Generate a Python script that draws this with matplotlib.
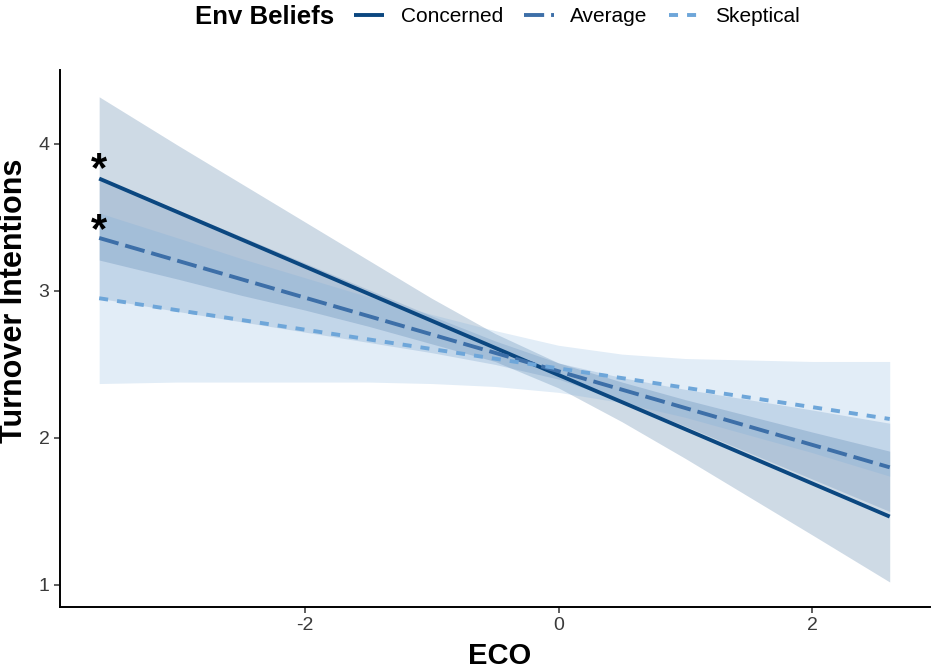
import matplotlib
matplotlib.use("Agg")
import matplotlib.pyplot as plt
from matplotlib.lines import Line2D

plt.rcParams["font.family"] = ["Liberation Sans", "DejaVu Sans"]
plt.rcParams["lines.scale_dashes"] = False
plt.rcParams["axes.unicode_minus"] = False

# --- data ---
# straight fitted lines, ends only
eco_ends = [-3.62, 2.61]
concerned_fit = [3.764, 1.465]
average_fit = [3.360, 1.800]
skeptical_fit = [2.950, 2.129]

# confidence ribbons
eco = [-3.62, -3.0, -2.5, -2.0, -1.5, -1.0, -0.5, 0.0, 0.5, 1.0, 1.5, 2.0, 2.61]
concerned_lo = [3.21, 3.08, 2.97, 2.87, 2.76, 2.64, 2.52, 2.34, 2.11, 1.86, 1.60, 1.34, 1.02]
concerned_hi = [4.32, 3.99, 3.73, 3.47, 3.21, 2.95, 2.71, 2.51, 2.38, 2.26, 2.15, 2.04, 1.91]
average_lo = [2.95, 2.86, 2.79, 2.72, 2.65, 2.58, 2.50, 2.40, 2.25, 2.08, 1.90, 1.72, 1.50]
average_hi = [3.77, 3.55, 3.37, 3.19, 3.01, 2.83, 2.66, 2.51, 2.41, 2.33, 2.26, 2.19, 2.10]
skeptical_lo = [2.37, 2.38, 2.38, 2.38, 2.38, 2.37, 2.35, 2.31, 2.24, 2.14, 2.02, 1.90, 1.74]
skeptical_hi = [3.53, 3.36, 3.22, 3.09, 2.96, 2.84, 2.73, 2.63, 2.57, 2.54, 2.53, 2.52, 2.52]

groups = ["Concerned", "Average", "Skeptical"]
colors = ["#0b4780", "#3d6fa8", "#6ea6d9"]
dashes = [(0, ()), (0, (14.5, 5.0)), (0, (6.5, 6.5))]
star_y = [3.82, 3.41]  # significance markers for Concerned / Average

fits = [concerned_fit, average_fit, skeptical_fit]
los = [concerned_lo, average_lo, skeptical_lo]
his = [concerned_hi, average_hi, skeptical_hi]

fig = plt.figure(figsize=(9.35, 6.7), dpi=100)
ax = fig.add_axes([0.064, 0.094, 0.931, 0.801])

for lo, hi, c in zip(los, his, colors):
    ax.fill_between(eco, lo, hi, color=c, alpha=0.2, linewidth=0)
for fit, c, ls in zip(fits, colors, dashes):
    ax.plot(eco_ends, fit, color=c, linestyle=ls, linewidth=2.8,
            solid_capstyle="butt", dash_capstyle="butt")

for y in star_y:
    ax.text(eco_ends[0], y, "*", fontsize=30, fontweight="bold", ha="center", va="center", color="black")

ax.set_xlim(-3.93, 2.93)
ax.set_ylim(0.85, 4.5)
ax.set_xticks([-2, 0, 2])
ax.set_yticks([1, 2, 3, 4])
ax.tick_params(labelsize=14, labelcolor="#3a3a3a", length=4, width=1.1, color="#333333")
for s in ["top", "right"]:
    ax.spines[s].set_visible(False)
for s in ["left", "bottom"]:
    ax.spines[s].set_linewidth(1.4)
ax.set_xlabel("ECO", fontsize=21, fontweight="bold")
ax.set_ylabel("Turnover Intentions", fontsize=22, fontweight="bold")
ax.xaxis.set_label_coords(0.505, -0.066)
ax.yaxis.set_label_coords(-0.036, 0.57)

# legend, title placed to the left like ggplot's top legend
fig.text(195 / 935, 0.975, "Env Beliefs", fontsize=18.5, fontweight="bold", ha="left", va="center")
handles = [Line2D([], [], color=c, linestyle=ls, linewidth=2.8, solid_capstyle="butt", dash_capstyle="butt")
           for c, ls in zip(colors, dashes)]
fig.legend(handles, groups, loc="center left", bbox_to_anchor=(354 / 935, 0.975), ncol=3, frameon=False,
           fontsize=15, handlelength=1.44, handletextpad=0.8, columnspacing=1.0,
           borderpad=0, borderaxespad=0)

fig.savefig("out.png", dpi=100)
